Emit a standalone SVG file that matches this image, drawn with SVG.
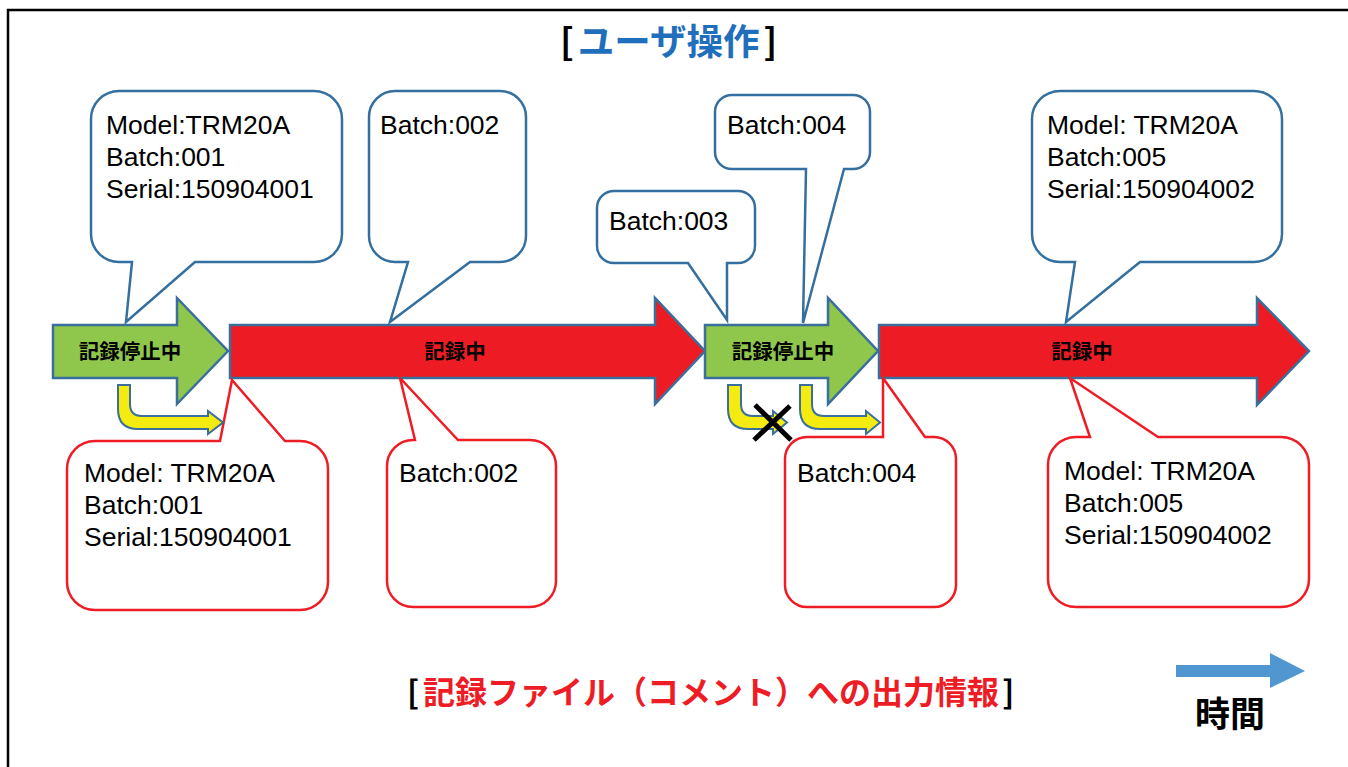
<svg xmlns="http://www.w3.org/2000/svg" width="1348" height="767" viewBox="0 0 1348 767">
<style>
.frame{fill:none;stroke:#000;stroke-width:2.5}
.arr{stroke:#3a6f9c;stroke-width:2.5;stroke-linejoin:miter}
.green{fill:#8fc64c}
.red{fill:#ed1c24}
.cb{fill:#fff;stroke:#336f9f;stroke-width:2.5;stroke-linejoin:miter}
.cr{fill:#fff;stroke:#ee1c24;stroke-width:2.5;stroke-linejoin:miter}
.t{font-family:"Liberation Sans",Arial,sans-serif;font-size:26.5px;fill:#000}
.lab{font-family:"Noto Sans CJK JP",sans-serif;font-size:20.5px;font-weight:bold;fill:#000;text-anchor:middle}
.title{font-family:"Noto Sans CJK JP",sans-serif;font-weight:bold}
.yel{fill:#f4ec10;stroke:#3a6f9c;stroke-width:2}
</style>
<rect width="1348" height="767" fill="#fff"/>
<path class="frame" d="M8,767 V10 H1348"/>

<g id="title-top"><text class="title" font-size="36.5" x="560" y="55"><tspan fill="#000">[</tspan><tspan dx="4" fill="#1f6fbd">ユーザ操作</tspan><tspan dx="4" fill="#000">]</tspan></text></g>
<g id="title-bottom"><text class="title" font-size="32" x="407" y="704"><tspan fill="#000">[</tspan><tspan dx="4" fill="#ee1c24">記録ファイル（コメント）への出力情報</tspan><tspan dx="3" fill="#000">]</tspan></text></g>

<g id="time">
<polygon points="1176,665 1270,665 1270,653 1305,671 1270,688 1270,677 1176,677" fill="#5097d1"/>
<text class="title" font-size="35" text-anchor="middle" x="1230" y="727" fill="#000">時間</text>
</g>

<g id="stop1"><polygon class="arr green" points="53,325 177,325 177,298 228,351 177,404 177,378 53,378"/><text class="lab" x="130" y="359">記録停止中</text></g>
<g id="rec1"><polygon class="arr red" points="230,325 655,325 655,298 705,351 655,404 655,378 230,378"/><text class="lab" x="455" y="359">記録中</text></g>
<g id="stop2"><polygon class="arr green" points="705,325 828,325 828,298 878,351 828,404 828,378 705,378"/><text class="lab" x="783" y="359">記録停止中</text></g>
<g id="rec2"><polygon class="arr red" points="879,325 1257,325 1257,298 1309,351 1257,405 1257,378 879,378"/><text class="lab" x="1082" y="359">記録中</text></g>

<g id="u1"><path class="cb" d="M119,91 H314 A28,28 0 0 1 342,119 V234 A28,28 0 0 1 314,262 H195 L126,322 L132,262 H119 A28,28 0 0 1 91,234 V119 A28,28 0 0 1 119,91 Z"/>
<text class="t" x="106" y="134">Model:TRM20A</text><text class="t" x="106" y="166">Batch:001</text><text class="t" x="106" y="198">Serial:150904001</text></g>
<g id="u2"><path class="cb" d="M395,91 H500 A26,26 0 0 1 526,117 V236 A26,26 0 0 1 500,262 H470 L390,322 L408,262 H395 A26,26 0 0 1 369,236 V117 A26,26 0 0 1 395,91 Z"/>
<text class="t" x="380" y="134">Batch:002</text></g>
<g id="u3"><path class="cb" d="M614,191 H738 A17,17 0 0 1 755,208 V246 A17,17 0 0 1 738,263 H727 L727,320 L688,263 H614 A17,17 0 0 1 597,246 V208 A17,17 0 0 1 614,191 Z"/>
<text class="t" x="609" y="230">Batch:003</text></g>
<g id="u4"><path class="cb" d="M732,95 H853 A17,17 0 0 1 870,112 V152 A17,17 0 0 1 853,169 H844 L803,323 L806,169 H732 A17,17 0 0 1 715,152 V112 A17,17 0 0 1 732,95 Z"/>
<text class="t" x="727" y="134">Batch:004</text></g>
<g id="u5"><path class="cb" d="M1060,91 H1254 A28,28 0 0 1 1282,119 V234 A28,28 0 0 1 1254,262 H1140 L1066,322 L1075,262 H1060 A28,28 0 0 1 1032,234 V119 A28,28 0 0 1 1060,91 Z"/>
<text class="t" x="1047" y="134">Model: TRM20A</text><text class="t" x="1047" y="166">Batch:005</text><text class="t" x="1047" y="198">Serial:150904002</text></g>

<g id="f1"><path class="cr" d="M95,441 H220 L232,380 L285,441 H300 A28,28 0 0 1 328,469 V582 A28,28 0 0 1 300,610 H95 A28,28 0 0 1 67,582 V469 A28,28 0 0 1 95,441 Z"/>
<text class="t" x="84" y="482">Model: TRM20A</text><text class="t" x="84" y="514">Batch:001</text><text class="t" x="84" y="546">Serial:150904001</text></g>
<g id="f2"><path class="cr" d="M413,440 H415 L400,378 L458,440 H530 A26,26 0 0 1 556,466 V581 A26,26 0 0 1 530,607 H413 A26,26 0 0 1 387,581 V466 A26,26 0 0 1 413,440 Z"/>
<text class="t" x="399" y="482">Batch:002</text></g>
<g id="f3"><path class="cr" d="M807,437 H883 L883,378 L925,437 H934 A22,22 0 0 1 956,459 V585 A22,22 0 0 1 934,607 H807 A22,22 0 0 1 785,585 V459 A22,22 0 0 1 807,437 Z"/>
<text class="t" x="797" y="482">Batch:004</text></g>
<g id="f4"><path class="cr" d="M1076,437 H1090 L1070,378 L1158,437 H1281 A28,28 0 0 1 1309,465 V579 A28,28 0 0 1 1281,607 H1076 A28,28 0 0 1 1048,579 V465 A28,28 0 0 1 1076,437 Z"/>
<text class="t" x="1064" y="480">Model: TRM20A</text><text class="t" x="1064" y="512">Batch:005</text><text class="t" x="1064" y="544">Serial:150904002</text></g>

<g id="connectors">
<path class="yel" d="M118,385 H130 V404 Q130,416 142,416 H208 V411 L223,422.5 L208,434 V429 H138 Q118,429 118,409 Z"/>
<path class="yel" d="M728,385 H741 V404 Q741,416 753,416 H773 V411 L787,422.5 L773,434 V429 H748 Q728,429 728,409 Z"/>
<path class="yel" d="M800,385 H812 V404 Q812,416 824,416 H866 V411 L880,422.5 L866,434 V429 H820 Q800,429 800,409 Z"/>
<path d="M755,405 L791,440 M790,406 L754,440" stroke="#000" stroke-width="5" fill="none"/>
</g>
</svg>
